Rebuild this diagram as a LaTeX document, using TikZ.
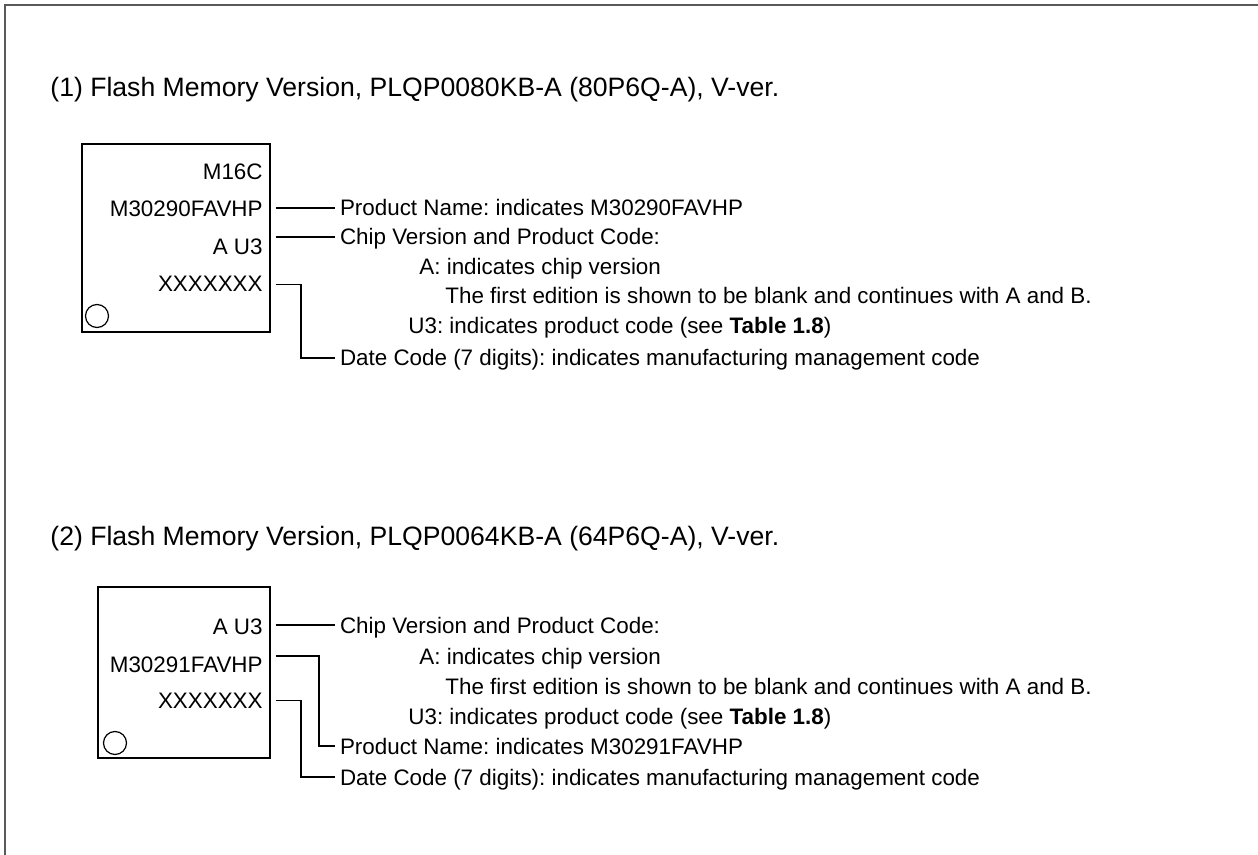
\documentclass[tikz,border=0pt]{standalone}
\usepackage{fontspec}
\setmainfont{Liberation Sans}
\frenchspacing
\begin{document}
\begin{tikzpicture}[x=0.5pt,y=-0.5pt,
  font=\fontsize{11.2}{13}\selectfont,
  frame/.style={line width=0.8pt, draw=black!65},
  chip/.style={draw, line width=0.6pt, inner sep=0pt},
  chiptxt/.style={anchor=base east, inner sep=0pt},
  pin/.style={circle, draw, line width=0.6pt, inner sep=0pt, minimum size=11.5pt},
  desc/.style={anchor=base west, inner sep=0pt, outer xsep=2.5pt, text height=8pt, text depth=0pt},
  sub/.style={anchor=base west, inner sep=0pt},
  title/.style={anchor=base west, inner sep=0pt, font=\fontsize{13.3}{15}\selectfont},
  conn/.style={line width=0.55pt}]
\useasboundingbox (0,0) rectangle (1258,855);
\draw[frame] (1258,5) -- (5,5) -- (5,855);

% ---- Section 1 ----
\node[title] (t1) at (50,97) {(1) Flash Memory Version, PLQP0080KB-A (80P6Q-A), V-ver.};
\node[chip, minimum width=94pt, minimum height=94pt] (box1) at (176,238) {};
\node[chiptxt] (m16c) at (263,180) {M16C};
\node[chiptxt] (pn1c) at (263,217) {M30290FAVHP};
\node[chiptxt] (au1) at (263,255) {A U3};
\node[chiptxt] (x1) at (263,292) {XXXXXXX};
\node[pin] (pin1) at (97,316) {};

\node[desc] (pn1) at (335,216) {Product Name: indicates M30290FAVHP};
\node[desc] (cv1) at (335,245) {Chip Version and Product Code:};
\node[sub] (a1) at (419,275) {A: indicates chip version};
\node[sub] (fe1) at (445,304) {The first edition is shown to be blank and continues with A and B.};
\node[sub] (u1) at (408,334) {U3: indicates product code (see \textbf{Table 1.8})};
\node[desc] (dc1) at (335,366) {Date Code (7 digits): indicates manufacturing management code};

\draw[conn] ([xshift=2.5pt]box1.east |- pn1.west) -- (pn1.west);
\draw[conn] ([xshift=2.5pt]box1.east |- cv1.west) -- (cv1.west);
\draw[conn] ([xshift=2.5pt]box1.east |- x1.west) -| ([xshift=-17pt]dc1.west) -- (dc1.west);

% ---- Section 2 ----
\node[title] (t2) at (50,545) {(2) Flash Memory Version, PLQP0064KB-A (64P6Q-A), V-ver.};
\node[chip, minimum width=86pt, minimum height=85.5pt] (box2) at (184,672.5) {};
\node[chiptxt] (au2) at (263,634) {A U3};
\node[chiptxt] (pn2c) at (263,672) {M30291FAVHP};
\node[chiptxt] (x2) at (263,708) {XXXXXXX};
\node[pin] (pin2) at (115,743) {};

\node[desc] (cv2) at (335,633) {Chip Version and Product Code:};
\node[sub] (a2) at (419,664) {A: indicates chip version};
\node[sub] (fe2) at (445,694) {The first edition is shown to be blank and continues with A and B.};
\node[sub] (u2) at (408,724) {U3: indicates product code (see \textbf{Table 1.8})};
\node[desc] (pn2) at (335,754) {Product Name: indicates M30291FAVHP};
\node[desc] (dc2) at (335,785) {Date Code (7 digits): indicates manufacturing management code};

\draw[conn] ([xshift=2.5pt]box2.east |- cv2.west) -- (cv2.west);
\draw[conn] ([xshift=2.5pt]box2.east |- pn2c.north) -| ([xshift=-8pt]pn2.west) -- (pn2.west);
\draw[conn] ([xshift=2.5pt]box2.east |- x2.west) -| ([xshift=-17pt]dc2.west) -- (dc2.west);
\end{tikzpicture}
\end{document}
